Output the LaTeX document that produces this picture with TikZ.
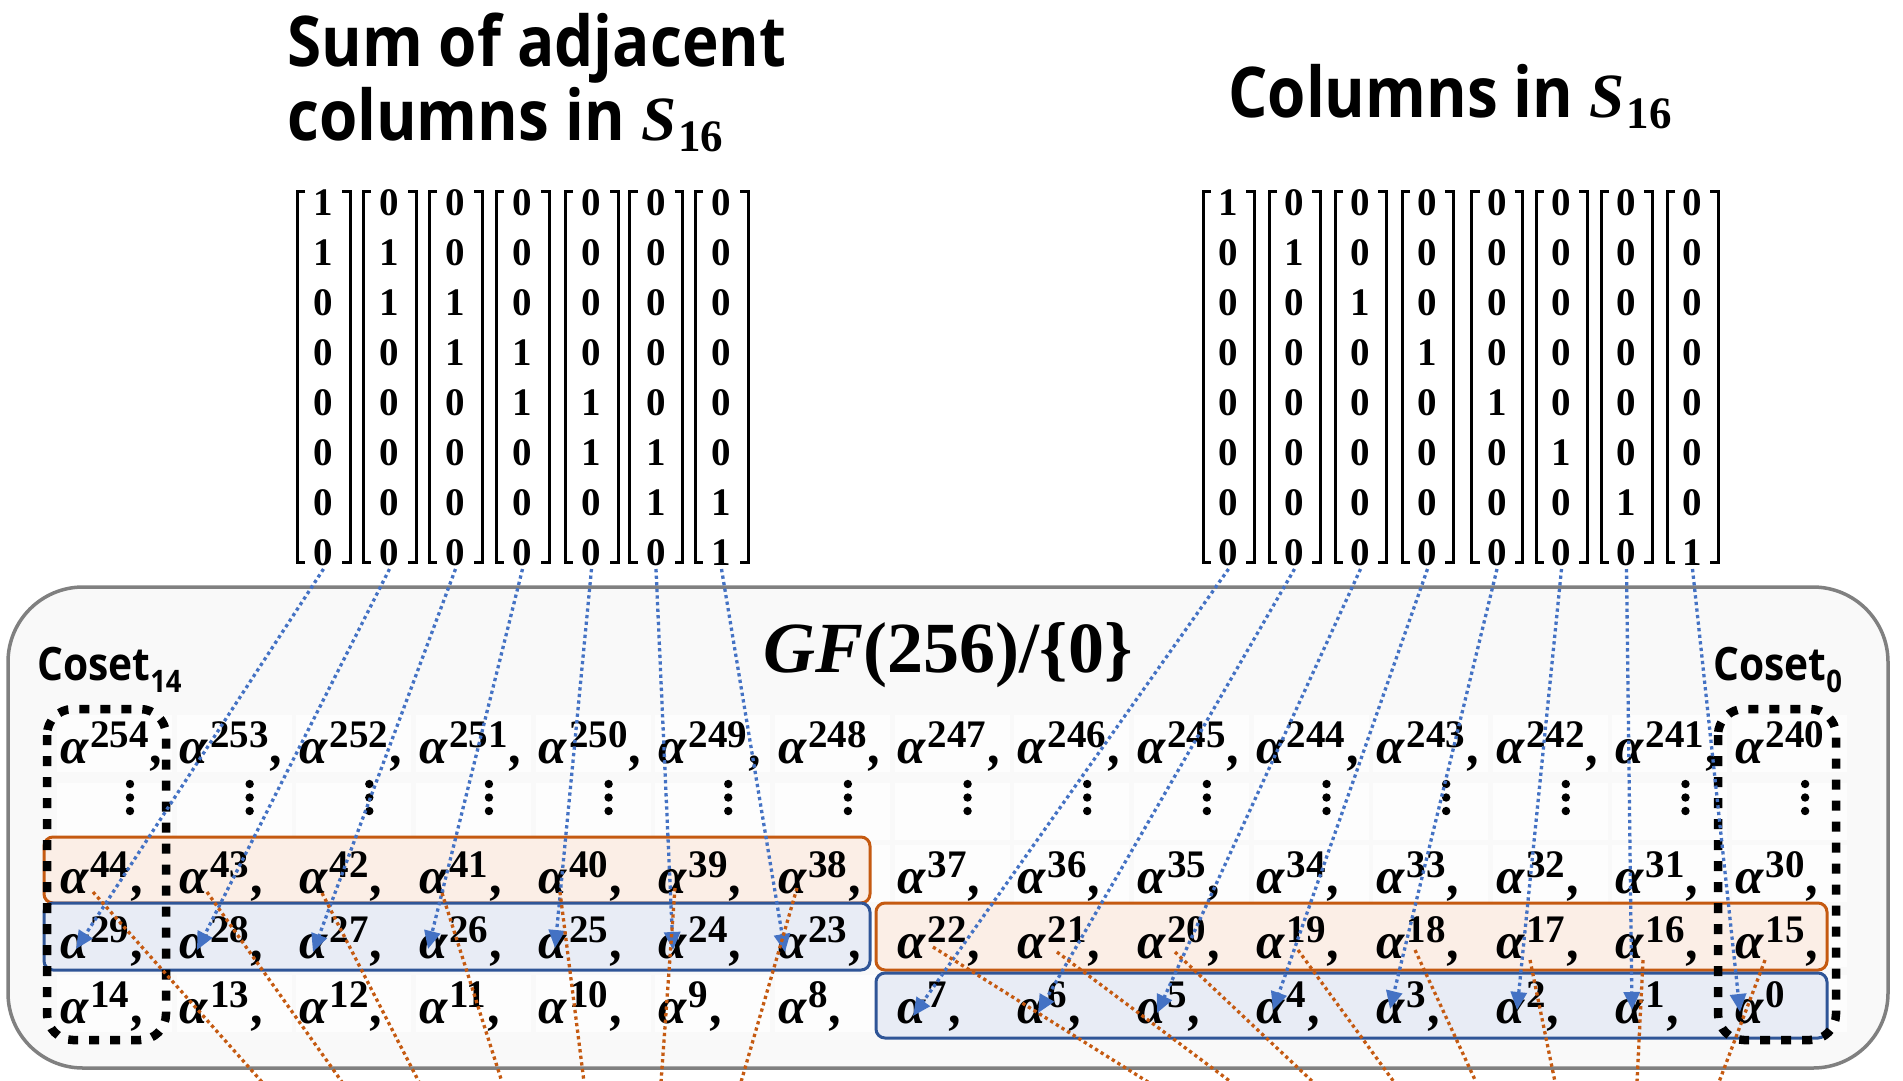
\RequirePackage{fix-cm}
\documentclass[tikz,border=0pt]{standalone}
\usepackage[no-math]{fontspec}
\newfontfamily\hfont{Open Sans}[FakeStretch=0.885]
\newfontfamily\dfont{Liberation Serif}
\usetikzlibrary{arrows.meta}
\definecolor{myorange}{HTML}{C55A11}
\definecolor{myblue}{HTML}{4472C4}
\definecolor{boxblue}{HTML}{2F5597}
\definecolor{fillor}{HTML}{FBEEE6}
\definecolor{fillbl}{HTML}{E8ECF5}
\definecolor{bgray}{HTML}{808080}
\definecolor{bgfill}{HTML}{F9F9F9}
\newcommand\myalpha[2]{{\itshape α}\kern2pt\raisebox{16pt}{\fontsize{39}{39}\selectfont #1}#2}
\newcommand\mysss{{\dfont\bfseries\itshape\fontsize{63}{63}\selectfont S}\kern2pt\raisebox{-11pt}{\dfont\bfseries\fontsize{45}{45}\selectfont 16}}
\begin{document}
\begin{tikzpicture}[x=1pt,y=-1pt,
  elem/.style={anchor=base west, inner sep=0pt, font=\dfont\bfseries\fontsize{51}{60}\selectfont},
  dig/.style={inner sep=0pt, font=\dfont\bfseries\fontsize{39}{45}\selectfont},
  brk/.style={line width=3pt, line cap=butt, line join=miter},
  htitle/.style={anchor=base west, inner sep=0pt, font=\hfont\bfseries\fontsize{70}{70}\selectfont},
  lab/.style={anchor=base west, inner sep=0pt, font=\hfont\bfseries\fontsize{46}{46}\selectfont},
  orbox/.style={draw=myorange, fill=fillor, line width=3pt, rounded corners=9pt},
  blbox/.style={draw=boxblue, fill=fillbl, line width=3pt, rounded corners=9pt},
  cosetbox/.style={draw=black, line width=8.5pt, dash pattern=on 10pt off 11pt, rounded corners=26pt},
  bluearr/.style={draw=myblue, line width=3.3pt, dash pattern=on 3.3pt off 3.3pt, -{Triangle[length=18pt,width=16pt,fill=myblue]}},
  orline/.style={draw=myorange, line width=3.3pt, dash pattern=on 3.3pt off 3.3pt}
]
\useasboundingbox (0,0) rectangle (1903,1080);
\fill[white] (0,0) rectangle (1903,1080);

% titles
\node[htitle] (t1a) at (287,66) {Sum of adjacent};
\node[htitle] (t1b) at (287,140) {columns in \mysss};
\node[htitle] (t2) at (1228,117) {Columns in \mysss};

% left matrices: sums of adjacent columns
\foreach \c [count=\j] in {323.5,389.5,455.5,522.5,591.5,656,721.5} {
  \draw[brk] ({\c-26.5+8},191) -- ({\c-26.5},191) -- ({\c-26.5},562) -- ({\c-26.5+8},562);
  \draw[brk] ({\c+26.5-8},191) -- ({\c+26.5},191) -- ({\c+26.5},562) -- ({\c+26.5-8},562);
  \foreach \i in {1,...,8} {
    \pgfmathtruncatemacro\jj{\j+1}
    \ifnum\i=\j \def\v{1}\else\ifnum\i=\jj \def\v{1}\else\def\v{0}\fi\fi
    \node[dig] (L\j-\i) at (\c,{203+49.9*(\i-1)}) {\v};
  }
  \coordinate (Lb\j) at (\c,569);
}

% right matrices: columns of S16
\foreach \c [count=\j] in {1228.5,1294.5,1360.5,1427.5,1497,1561.5,1626.5,1692.5} {
  \draw[brk] ({\c-25.5+8},191) -- ({\c-25.5},191) -- ({\c-25.5},562) -- ({\c-25.5+8},562);
  \draw[brk] ({\c+25.5-8},191) -- ({\c+25.5},191) -- ({\c+25.5},562) -- ({\c+25.5-8},562);
  \foreach \i in {1,...,8} {
    \ifnum\i=\j \def\v{1}\else\def\v{0}\fi
    \node[dig] (R\j-\i) at (\c,{203+49.9*(\i-1)}) {\v};
  }
  \coordinate (Rb\j) at (\c,569);
}

% big GF box
\draw[line width=3.5pt, draw=bgray, fill=bgfill, rounded corners=75pt] (8,587) rectangle (1888,1068);

% faint cells
\foreach \k in {0,...,14} {
  \foreach \tt/\bb in {715/772,783/840,845/902,910/967,975/1032} {
    \fill[white, opacity=0.75] ({57+119.65*\k},\tt) rectangle ({172+119.65*\k},\bb);
  }
}

% highlight boxes
\draw[orbox] (44,837) rectangle (870,903);
\draw[blbox] (44,903) rectangle (870,970);
\draw[orbox] (876,903) rectangle (1827,970);
\draw[blbox] (876,973) rectangle (1827,1038);

% elements
\foreach \r/\yy/\st in {1/763/254,3/893/44,4/958/29,5/1023/14} {
  \foreach \k in {0,...,14} {
    \pgfmathtruncatemacro\n{\st-\k}
    \ifnum\k<14 \def\cm{\kern3pt{\itshape ,}}\else
      \ifnum\r=3 \def\cm{\kern3pt{\itshape ,}}\else\ifnum\r=4 \def\cm{\kern3pt{\itshape ,}}\else\def\cm{}\fi\fi
    \fi
    \node[elem] (e\n) at ({60+119.65*\k},\yy) {\myalpha{\n}{\cm}};
  }
}
% vertical dots
\foreach \k in {0,...,14} {
  \foreach \dy in {784,797.5,811} {
    \fill ({130+119.65*\k},\dy) circle (4.2pt);
  }
}

% coset boxes
\draw[cosetbox] (47,709) rectangle (166,1040);
\draw[cosetbox] (1718,709) rectangle (1836,1040);

% labels
\node[lab] (c14) at (37,680) {Coset\raisebox{-12pt}{\fontsize{31}{31}\selectfont 14}};
\node[lab] (c0) at (1713,680) {Coset\raisebox{-12pt}{\fontsize{31}{31}\selectfont 0}};
\node[anchor=base, inner sep=0pt, font=\dfont\bfseries\fontsize{72}{72}\selectfont] (gf) at (948,672) {{\itshape GF\/}(256)/\{0\}};

% arrow tips
\coordinate (tip29) at (76,949);
\coordinate (tip28) at (197,950);
\coordinate (tip27) at (313,952);
\coordinate (tip26) at (428,949);
\coordinate (tip25) at (555,948);
\coordinate (tip24) at (673,950);
\coordinate (tip23) at (785,952);
\coordinate (tip7) at (913,1016);
\coordinate (tip6) at (1038,1013);
\coordinate (tip5) at (1157,1013);
\coordinate (tip4) at (1273,1010);
\coordinate (tip3) at (1390,1009);
\coordinate (tip2) at (1517,1010);
\coordinate (tip1) at (1632,1010);
\coordinate (tip0) at (1740,1012);

% orange line ends
\foreach \n/\sx/\sy/\ex in {44/93/892/262,43/207/892/342,42/322/893/419,41/442/893/502,40/560/892/584,39/675/888/661,38/797/888/741,
  22/933/947/1148,21/1057/952/1231,20/1175/952/1313,19/1298/950/1394,18/1415/950/1476,17/1530/960/1555,16/1643/960/1637,15/1765/960/1719} {
  \coordinate (os\n) at (\sx,\sy);
  \coordinate (oe\n) at (\ex,1082);
}

% blue arrows
\foreach \j/\n in {1/29,2/28,3/27,4/26,5/25,6/24,7/23} {
  \draw[bluearr] (Lb\j) -- (tip\n);
}
\foreach \j/\n in {1/7,2/6,3/5,4/4,5/3,6/2,7/1,8/0} {
  \draw[bluearr] (Rb\j) -- (tip\n);
}
% orange lines
\foreach \n in {44,43,42,41,40,39,38,22,21,20,19,18,17,16,15} {
  \draw[orline] (os\n) -- (oe\n);
}
\end{tikzpicture}
\end{document}
